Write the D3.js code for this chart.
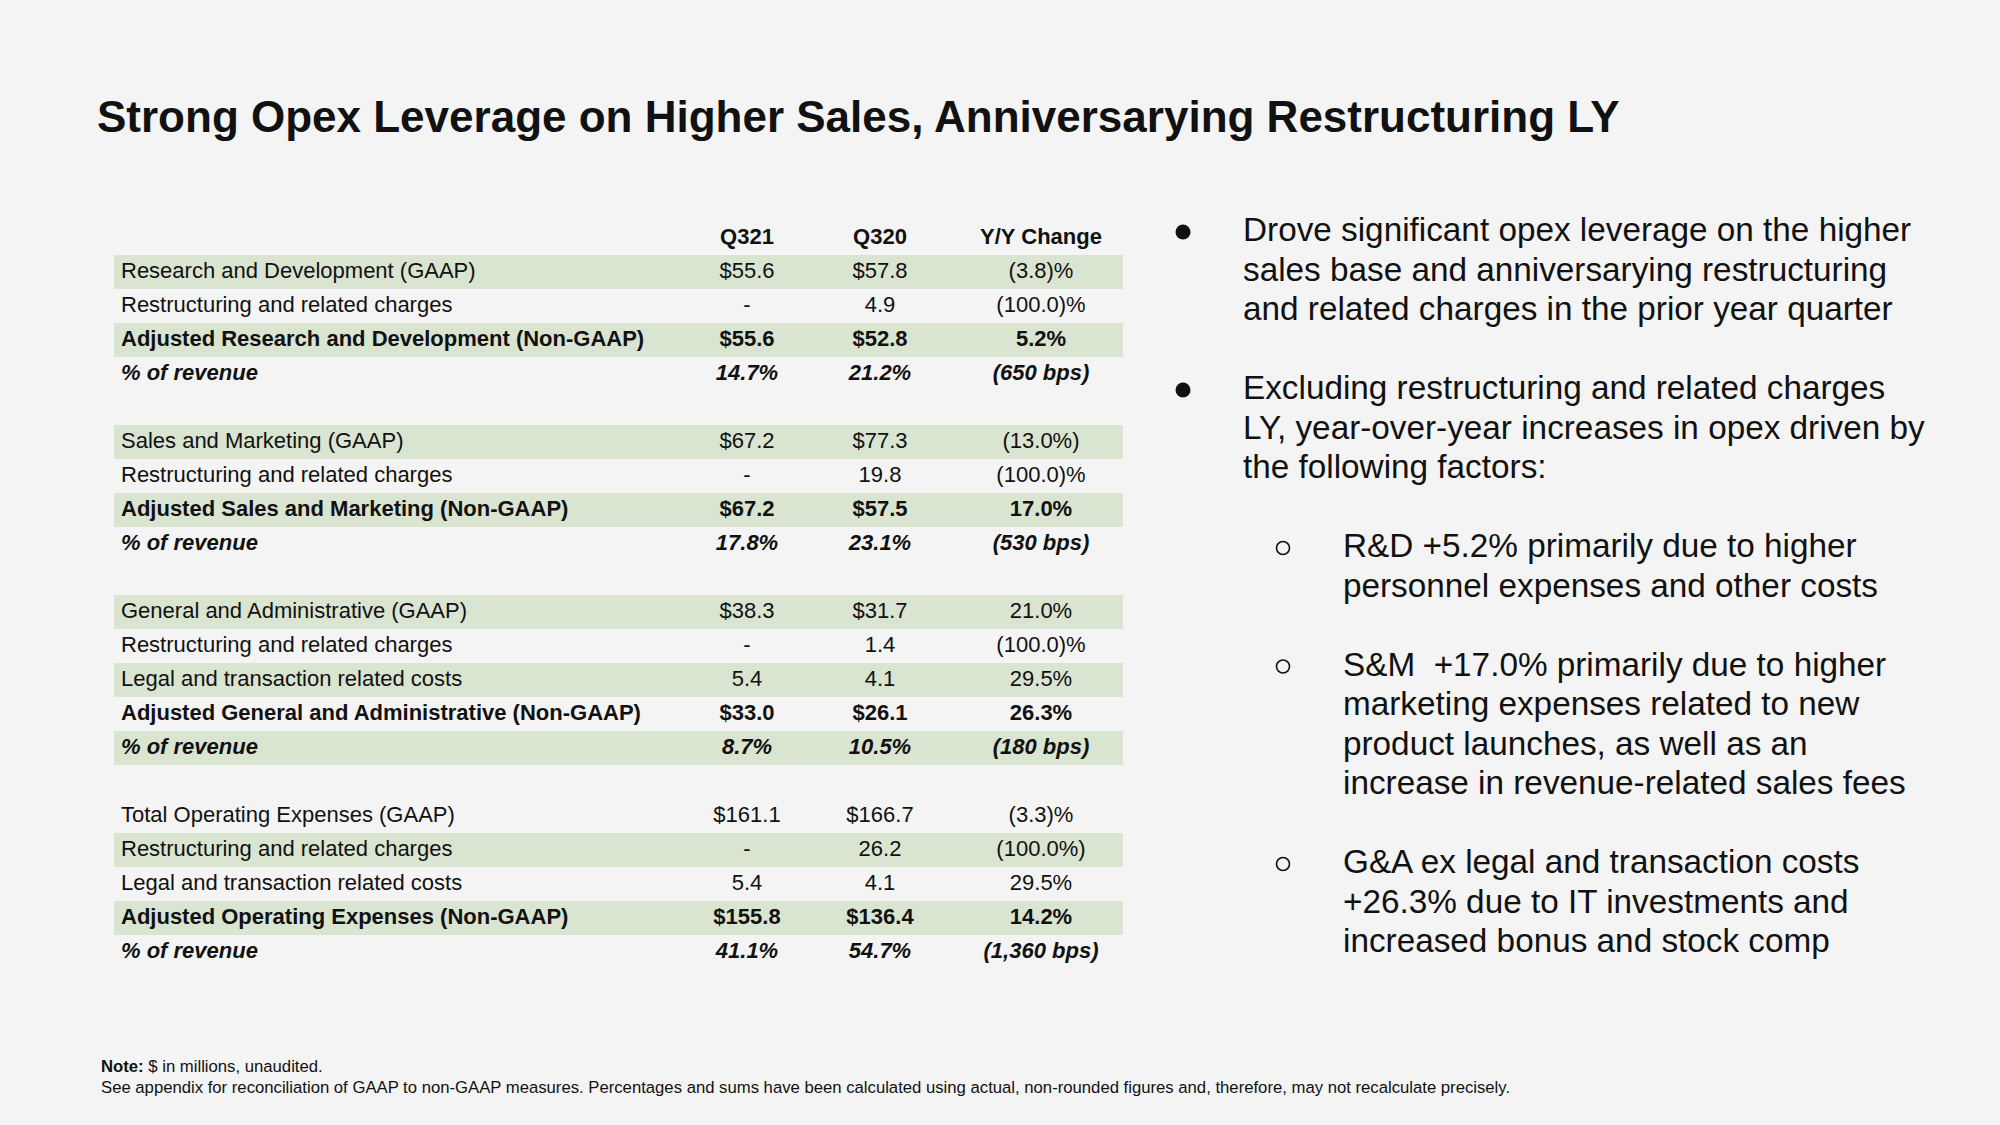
<!DOCTYPE html>
<html>
<head>
<meta charset="utf-8">
<script src="https://cdn.jsdelivr.net/npm/d3@7"></script>
<style>
  html, body { margin: 0; padding: 0; background: #f4f4f4; }
  svg { display: block; }
  text { font-family: "Liberation Sans", Arial, Helvetica, sans-serif; fill: #111; }
</style>
</head>
<body>
<script>
// ---------- DATA ----------
const title = "Strong Opex Leverage on Higher Sales, Anniversarying Restructuring LY";
const columns = ["Q321", "Q320", "Y/Y Change"];

const rowLabels = [
  "Research and Development (GAAP)", "Restructuring and related charges",
  "Adjusted Research and Development (Non-GAAP)", "% of revenue", "",
  "Sales and Marketing (GAAP)", "Restructuring and related charges",
  "Adjusted Sales and Marketing (Non-GAAP)", "% of revenue", "",
  "General and Administrative (GAAP)", "Restructuring and related charges",
  "Legal and transaction related costs", "Adjusted General and Administrative (Non-GAAP)",
  "% of revenue", "",
  "Total Operating Expenses (GAAP)", "Restructuring and related charges",
  "Legal and transaction related costs", "Adjusted Operating Expenses (Non-GAAP)", "% of revenue"
];
const q321 = ["$55.6", "-", "$55.6", "14.7%", "",
  "$67.2", "-", "$67.2", "17.8%", "",
  "$38.3", "-", "5.4", "$33.0", "8.7%", "",
  "$161.1", "-", "5.4", "$155.8", "41.1%"];
const q320 = ["$57.8", "4.9", "$52.8", "21.2%", "",
  "$77.3", "19.8", "$57.5", "23.1%", "",
  "$31.7", "1.4", "4.1", "$26.1", "10.5%", "",
  "$166.7", "26.2", "4.1", "$136.4", "54.7%"];
const yoy = ["(3.8)%", "(100.0)%", "5.2%", "(650 bps)", "",
  "(13.0%)", "(100.0)%", "17.0%", "(530 bps)", "",
  "21.0%", "(100.0)%", "29.5%", "26.3%", "(180 bps)", "",
  "(3.3)%", "(100.0%)", "29.5%", "14.2%", "(1,360 bps)"];
// row kind: g = GAAP line, i = adjustment item, a = adjusted (non-GAAP), p = % of revenue, s = spacer
const rowKind = ["g","i","a","p","s", "g","i","a","p","s", "g","i","i","a","p","s", "g","i","i","a","p"];
const shadedRows = [0, 2, 5, 7, 10, 12, 14, 17, 19];

const bulletLines = [
  ["Drove significant opex leverage on the higher", "sales base and anniversarying restructuring", "and related charges in the prior year quarter"],
  ["Excluding restructuring and related charges", "LY, year-over-year increases in opex driven by", "the following factors:"]
];
const subBulletLines = [
  ["R&D +5.2% primarily due to higher", "personnel expenses and other costs"],
  ["S&M  +17.0% primarily due to higher", "marketing expenses related to new", "product launches, as well as an", "increase in revenue-related sales fees"],
  ["G&A ex legal and transaction costs", "+26.3% due to IT investments and", "increased bonus and stock comp"]
];
const noteBold = "Note:";
const noteText = " $ in millions, unaudited.";
const noteLine2 = "See appendix for reconciliation of GAAP to non-GAAP measures. Percentages and sums have been calculated using actual, non-rounded figures and, therefore, may not recalculate precisely.";

// ---------- LAYOUT ----------
const W = 2000, H = 1125;
const svg = d3.select("body").append("svg").attr("width", W).attr("height", H);
svg.append("rect").attr("width", W).attr("height", H).attr("fill", "#f4f4f4");

svg.append("text").attr("x", 97).attr("y", 132)
  .attr("font-size", 44).attr("font-weight", "bold").text(title);

// table scales
const rowIdx = d3.range(rowLabels.length);
const y = d3.scaleBand().domain(rowIdx).range([255, 255 + 34 * rowLabels.length]).padding(0);
const colX = d3.scaleOrdinal().domain(columns).range([747, 880, 1041]);
const tableLeft = 114, tableRight = 1123, labelX = 121;
const fs = 22;

const tbl = svg.append("g");
tbl.selectAll("rect.band").data(shadedRows).join("rect")
  .attr("class", "band")
  .attr("x", tableLeft).attr("width", tableRight - tableLeft)
  .attr("y", d => y(d)).attr("height", y.bandwidth())
  .attr("fill", "#d9e4d1");

// header
tbl.selectAll("text.hdr").data(columns).join("text")
  .attr("class", "hdr")
  .attr("x", d => colX(d)).attr("y", 244)
  .attr("text-anchor", "middle").attr("font-size", fs).attr("font-weight", "bold")
  .text(d => d);

const rows = rowIdx.filter(i => rowKind[i] !== "s").map(i => ({
  i, kind: rowKind[i], cells: [rowLabels[i], q321[i], q320[i], yoy[i]]
}));
const rowG = tbl.selectAll("g.row").data(rows).join("g")
  .attr("class", "row")
  .attr("transform", d => `translate(0,${y(d.i) + y.bandwidth() / 2 + 5.5})`);
rowG.selectAll("text").data(d => d.cells.map((c, k) => ({ c, k, kind: d.kind }))).join("text")
  .attr("x", d => d.k === 0 ? labelX : colX(columns[d.k - 1]))
  .attr("text-anchor", d => d.k === 0 ? "start" : "middle")
  .attr("font-size", fs)
  .attr("font-weight", d => (d.kind === "a" || d.kind === "p") ? "bold" : "normal")
  .attr("font-style", d => d.kind === "p" ? "italic" : "normal")
  .text(d => d.c);

// bullets
const lineStep = 39.5, firstBase = 241, bfs = 33.3;
const blocks = [];
let li = 0;
bulletLines.forEach(lines => { blocks.push({ level: 0, lines, start: li }); li += lines.length + 1; });
subBulletLines.forEach(lines => { blocks.push({ level: 1, lines, start: li }); li += lines.length + 1; });

const bl = svg.append("g");
blocks.forEach(b => {
  const base = firstBase + lineStep * b.start;
  const tx = b.level === 0 ? 1243 : 1343;
  if (b.level === 0) {
    bl.append("circle").attr("cx", 1183).attr("cy", base - 9).attr("r", 7.5).attr("fill", "#111");
  } else {
    bl.append("circle").attr("cx", 1283).attr("cy", base - 9).attr("r", 6.5)
      .attr("fill", "none").attr("stroke", "#111").attr("stroke-width", 1.6);
  }
  b.lines.forEach((t, k) => {
    bl.append("text").attr("x", tx).attr("y", base + lineStep * k)
      .attr("font-size", bfs).attr("xml:space", "preserve").style("white-space", "pre").text(t);
  });
});

// footnote
const n1 = svg.append("text").attr("x", 101).attr("y", 1072).attr("font-size", 16.7);
n1.append("tspan").attr("font-weight", "bold").text(noteBold);
n1.append("tspan").text(noteText);
svg.append("text").attr("x", 101).attr("y", 1093).attr("font-size", 16.7).text(noteLine2);
</script>
</body>
</html>
